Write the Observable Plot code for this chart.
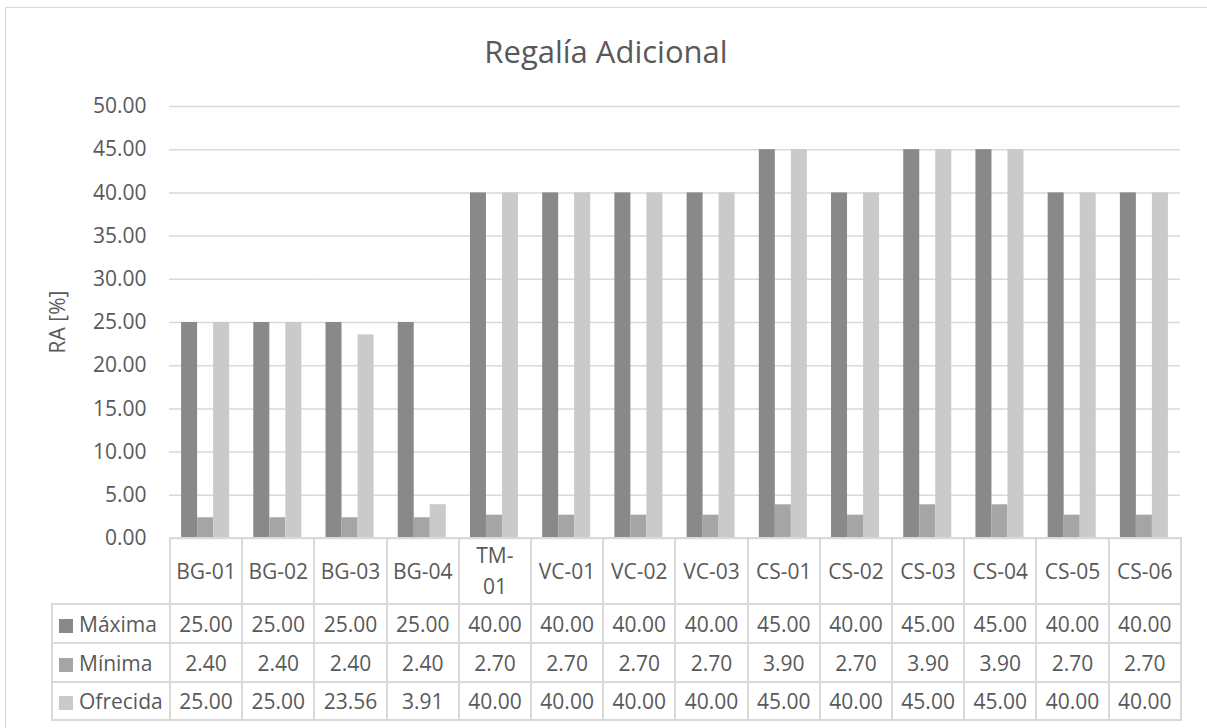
<!DOCTYPE html>
<html>
<head>
<meta charset="utf-8">
<script src="https://cdn.jsdelivr.net/npm/d3@7"></script>
<script src="https://cdn.jsdelivr.net/npm/@observablehq/plot@0.6"></script>
<style>
  html, body { margin: 0; padding: 0; background: #fff; overflow: hidden; }
  #wrap { position: relative; width: 1207px; height: 728px; overflow: hidden; background: #fff;
          font-family: "Open Sans", sans-serif; color: #595959; }
  #frame { position: absolute; left: 5px; top: 7px; width: 2000px; height: 2000px;
           border: 1.5px solid #d9d9d9; box-sizing: border-box; }
  #title { position: absolute; left: 0; width: 1212px; top: 36px; text-align: center;
           font-size: 31px; line-height: 1; }
  #ylabel { position: absolute; left: 57px; top: 322px; font-size: 21px; white-space: nowrap;
            transform: translate(-50%, -50%) rotate(-90deg); line-height: 1; }
  #chart { position: absolute; left: 0; top: 0; }
  #tbl { position: absolute; left: 51px; top: 537px; border-collapse: collapse; table-layout: fixed;
         font-size: 21px; color: #595959; }
  #tbl td { border: 2px solid #d9d9d9; text-align: center; padding: 0; white-space: nowrap; }
  #tbl td.hdr { white-space: normal; line-height: 31px; }
  #tbl td.hdr div { max-width: 60px; margin: 0 auto; }
  #tbl td.blank { border-top: none; border-left: none; }
  #tbl td.leg { text-align: left; padding-left: 6px; }
  #tbl td.leg span.sw { display: inline-block; width: 14px; height: 14px; margin-right: 6px; vertical-align: -1px; }
</style>
</head>
<body>
<div id="wrap">
  <div id="frame"></div>
  <div id="chart"></div>
  <div id="title"></div>
  <div id="ylabel"></div>
  <table id="tbl"></table>
</div>
<script>
const titleText = "Regalía Adicional";
const yLabel = "RA [%]";
const categories = ["BG-01","BG-02","BG-03","BG-04","TM-01","VC-01","VC-02","VC-03","CS-01","CS-02","CS-03","CS-04","CS-05","CS-06"];
const seriesNames = ["Máxima","Mínima","Ofrecida"];
const maxima   = [25, 25, 25, 25, 40, 40, 40, 40, 45, 40, 45, 45, 40, 40];
const minima   = [2.4, 2.4, 2.4, 2.4, 2.7, 2.7, 2.7, 2.7, 3.9, 2.7, 3.9, 3.9, 2.7, 2.7];
const ofrecida = [25, 25, 23.56, 3.91, 40, 40, 40, 40, 45, 40, 45, 45, 40, 40];
const seriesColors = ["#898989", "#a5a5a5", "#cacaca"];
const yTicks = [0, 5, 10, 15, 20, 25, 30, 35, 40, 45, 50];

const seriesValues = [maxima, minima, ofrecida];
const rows = [];
categories.forEach((c, i) => {
  seriesNames.forEach((s, j) => rows.push({cat: c, series: s, value: seriesValues[j][i]}));
});

document.getElementById("title").textContent = titleText;
document.getElementById("ylabel").textContent = yLabel;

const chart = Plot.plot({
  width: 1207,
  height: 540,
  marginLeft: 169,
  marginRight: 27,
  marginTop: 106,
  marginBottom: 2,
  style: {fontFamily: "Open Sans, sans-serif", fontSize: "21px", color: "#595959", background: "transparent", overflow: "visible"},
  fx: {domain: categories, padding: 0, round: false, axis: null, label: null},
  x: {domain: seriesNames, paddingInner: 0, paddingOuter: 0.755, round: false, axis: null},
  y: {domain: [0, 50], axis: null},
  color: {domain: seriesNames, range: seriesColors},
  marks: [
    Plot.gridY(yTicks, {stroke: "#d9d9d9", strokeOpacity: 1, strokeWidth: 1.5}),
    Plot.barY(rows, {fx: "cat", x: "series", y: "value", fill: "series", inset: 0}),
    Plot.axisY(yTicks, {tickSize: 0, tickPadding: 23, tickFormat: d => d.toFixed(2), label: null, fontSize: 21})
  ]
});
document.getElementById("chart").appendChild(chart);

// data table
const tbl = document.getElementById("tbl");
const colW = (1180 - 169) / categories.length;
let html = '<colgroup><col style="width:118px">' + categories.map(() => `<col style="width:${colW}px">`).join("") + '</colgroup>';
html += '<tr style="height:66px"><td class="blank"></td>' + categories.map(c => `<td class="hdr"><div>${c}</div></td>`).join("") + '</tr>';
const rowH = [39, 39, 38];
seriesNames.forEach((s, j) => {
  html += `<tr style="height:${rowH[j]}px"><td class="leg"><span class="sw" style="background:${seriesColors[j]}"></span>${s}</td>` +
    seriesValues[j].map(v => `<td>${v.toFixed(2)}</td>`).join("") + '</tr>';
});
tbl.innerHTML = html;
tbl.style.width = (118 + colW * categories.length) + "px";
</script>
</body>
</html>
